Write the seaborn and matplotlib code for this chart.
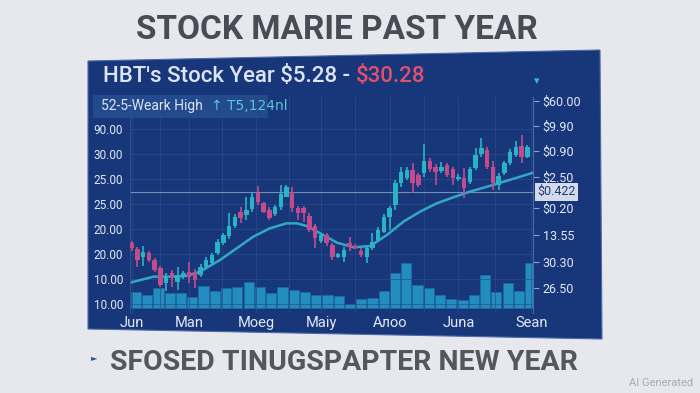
import numpy as np
import pandas as pd
import matplotlib
matplotlib.use("Agg")
import matplotlib.pyplot as plt
from matplotlib.patches import Polygon, Rectangle
import seaborn as sns

# ---------------- data ----------------
opens  = [17.36,16.56,15.60,16.16,15.28,14.28,12.56,13.76,12.68,13.28,
          13.88,13.88,13.48,14.48,14.96,16.08,17.36,18.16,19.36,21.08,
          20.68,21.36,23.36,22.08,21.28,20.80,21.68,22.88,23.48,21.48,
          21.48,20.56,19.36,17.60,18.28,17.08,15.60,15.68,17.28,16.96,
          16.40,15.68,16.68,17.68,18.68,20.40,21.88,24.48,25.08,26.08,
          25.48,25.68,27.20,26.48,26.00,26.68,26.16,24.96,25.08,24.68,
          26.28,28.00,28.48,26.48,24.28,25.68,26.88,27.88,28.96,27.68]
closes = [16.68,15.28,16.28,15.28,14.08,12.28,13.20,13.08,13.48,13.76,
          13.28,12.88,14.48,15.28,15.88,17.48,18.28,19.36,20.48,20.28,
          21.28,22.80,22.28,21.08,20.28,21.60,23.20,24.08,21.48,20.96,
          20.88,18.88,17.88,18.28,17.28,15.68,16.00,16.48,16.80,16.76,
          15.88,16.76,17.48,18.88,20.48,21.48,24.48,25.88,26.08,24.48,
          24.28,27.20,26.16,25.88,26.48,25.48,25.08,25.28,23.88,26.16,
          27.88,28.68,26.48,24.48,25.36,26.88,28.28,28.88,27.60,28.80]
highs  = [17.60,16.88,16.96,16.40,15.48,14.56,13.68,14.08,14.48,14.00,
          15.08,14.16,14.80,15.60,16.16,17.76,18.56,20.88,20.80,21.60,
          22.88,23.48,24.16,22.28,21.60,21.88,24.28,24.28,24.08,21.76,
          21.76,20.88,19.60,18.56,18.56,17.36,16.16,16.88,18.00,17.20,
          16.68,17.08,18.48,19.20,20.80,21.76,24.88,26.48,26.40,26.88,
          25.76,29.20,27.48,26.80,27.08,26.96,26.48,25.60,26.28,26.48,
          28.68,29.88,28.80,27.20,25.68,27.20,28.56,29.60,30.28,29.08]
lows   = [16.40,14.48,14.56,15.08,13.88,12.08,11.60,12.08,11.68,13.04,
          12.48,11.88,13.28,14.24,14.80,15.88,17.08,17.76,19.08,19.76,
          20.08,21.08,21.88,20.88,20.08,20.56,21.28,22.80,21.08,20.08,
          19.88,18.68,16.68,17.36,16.96,15.28,15.48,15.08,16.40,16.56,
          15.68,14.96,16.48,17.44,18.48,18.88,21.28,24.08,24.88,23.28,
          24.08,25.28,25.88,24.28,25.76,25.20,24.28,24.80,22.68,24.40,
          26.08,27.68,26.16,23.68,23.68,25.48,26.68,27.68,26.88,27.48]

volumes = [5.0,4.0,6.0,4.5,4.5,3.3,6.8,5.3,6.2,6.5,7.8,6.3,4.7,6.5,5.5,5.0,
           4.0,4.0,3.7,1.3,2.7,3.0,5.3,10.7,13.5,7.1,6.2,4.1,2.8,2.5,4.0,
           10.0,4.9,7.7,5.3,13.7]

ma_day = [-0.3,3.8,6.7,9.6,11.9,15.4,18.3,21.2,24.1,27.0,28.8,30.5,32.9,
          35.8,38.7,41.6,44.5,47.4,50.3,53.2,56.1,59.0,62.0,64.9,67.8,70.0]
ma_val = [12.56,13.28,13.28,13.36,13.88,15.28,16.68,18.08,19.08,19.68,19.68,
          19.36,18.48,17.36,16.80,16.96,18.28,19.88,21.08,22.08,22.80,23.48,
          24.08,24.68,25.28,25.76]

ref_price = 23.48
ref_label = "$0.422"

month_labels = ["Jun", "Man", "Moeg", "Maiy", "Aлoo", "Juna", "Sean"]
month_pos = [0.0, 10.0, 21.7, 33.1, 45.1, 57.0, 69.7]

left_tick_vals = [10, 13, 16, 19, 22, 25, 28, 31]
left_tick_labels = ["10.00", "10.00", "20.00", "20.00", "25.00", "25.00", "30.00", "90.00"]

right_tick_vals = [34.40, 31.40, 28.36, 25.24, 21.52, 18.28, 15.04, 11.92]
right_tick_labels = ["$60.00", "$9.90", "$0.90", "$2.50", "$0.20", "13.55", "30.30", "26.50"]

main_title = "STOCK MARIE PAST YEAR"
panel_title_a = "HBT's Stock Year $5.28 - "
panel_title_b = "$30.28"
subtitle_a = "52-5-Weark High"
subtitle_b = "↑ T5,124nl"
footer = "SFOSED TINUGSPAPTER NEW YEAR"

# ---------------- style ----------------
sns.set_theme(style="dark")
plt.rcParams['font.family'] = ['Roboto', 'DejaVu Sans']

W, H = 700, 393
fig = plt.figure(figsize=(7.0, 3.93), dpi=100)
fig.patch.set_facecolor("#e6e8ee")

def fx(x): return x / W
def fy(y): return 1 - y / H

NAVY = "#17377a"
TEAL = "#2ab3c6"
PINK = "#c24b8b"
VOL = "#248dc0"

# panel (slight perspective)
panel = Polygon([(fx(88), fy(61)), (fx(600), fy(50)), (fx(602), fy(339)), (fx(88), fy(329))],
                closed=True, transform=fig.transFigure, facecolor=NAVY,
                edgecolor="#4a6aa8", linewidth=0.8, zorder=-10)
fig.patches.append(panel)
# subtitle highlight box
fig.patches.append(Rectangle((fx(93), fy(118)), fx(268) - fx(93), fy(95) - fy(118),
                             transform=fig.transFigure, facecolor="#244a8e",
                             edgecolor="none", zorder=-9))

# axes
ax = fig.add_axes([fx(130), fy(313), fx(533) - fx(130), fy(97) - fy(313)])
ax.set_xlim(-0.3, 70.0)
ax.set_ylim(8.92, 34.84)

axv = ax.twinx()
axv.set_ylim(-1.35, 63.3)
ax.set_zorder(2)
axv.set_zorder(1)
ax.patch.set_visible(False)
axv.patch.set_visible(False)

# volume bars
n_days = len(opens)
vol_x = np.linspace(0.75, 69.5, len(volumes))
axv.bar(vol_x, volumes, width=1.78, color=VOL, edgecolor="#1a6fa5", linewidth=0.4, zorder=1)
axv.set_yticks([])
axv.grid(False)
for s in axv.spines.values():
    s.set_visible(False)

# candles
df = pd.DataFrame({"day": np.arange(n_days), "open": opens, "close": closes,
                   "high": highs, "low": lows})
df["up"] = df["close"] >= df["open"]
colors = np.where(df["up"], TEAL, PINK)
ax.vlines(df["day"], df["low"], df["high"], colors=colors, linewidth=1.2, zorder=3)
bottoms = np.minimum(df["open"], df["close"])
heights = np.abs(df["close"] - df["open"]).clip(lower=0.15)
ax.bar(df["day"], heights, bottom=bottoms, width=0.78, color=colors, linewidth=0, zorder=4)

# moving average
sns.lineplot(x=ma_day, y=ma_val, ax=ax, color="#34a8c4", linewidth=1.8, zorder=2,
             sort=False, estimator=None)

# reference line + label box
ax.axhline(ref_price, color="#8fa3cc", linewidth=0.8, alpha=0.8, zorder=1)
ax.annotate(ref_label, xy=(1.0, ref_price), xycoords=("axes fraction", "data"),
            xytext=(3, 0), textcoords="offset points", ha="left", va="center",
            fontsize=9, color="#1d3a74", annotation_clip=False,
            bbox=dict(boxstyle="square,pad=0.2", facecolor="#d3dbea", edgecolor="none"))

# grid
ax.set_yticks(left_tick_vals)
ax.set_yticklabels(left_tick_labels)
ax.set_xticks(month_pos)
ax.set_xticklabels(month_labels)
ax.set_xticks([5, 15.8, 27.4, 39, 51, 63.3], minor=True)
ax.grid(True, which="both", color="#2b4c8a", linewidth=0.6, alpha=0.8)
ax.tick_params(axis="y", which="both", length=0, pad=5, labelsize=8.5, labelcolor="#e3e9f5")
ax.tick_params(axis="x", which="both", length=0, pad=2, labelsize=10.5, labelcolor="#e3e9f5")
for s in ["top", "bottom", "right"]:
    ax.spines[s].set_visible(False)
ax.spines["left"].set_color("#36558f")
ax.spines["left"].set_linewidth(0.6)

sec = ax.secondary_yaxis("right")
sec.set_yticks(right_tick_vals)
sec.set_yticklabels(right_tick_labels)
sec.tick_params(length=4, width=0.8, color="#8aa0c8", pad=3, labelsize=9, labelcolor="#e3e9f5")
sec.spines["right"].set_color("#4a6aa8")
sec.spines["right"].set_linewidth(0.8)

# texts
fig.text(fx(337), fy(30), main_title, ha="center", va="center", fontsize=24,
         fontweight="bold", color="#4b4b56")
t1 = fig.text(fx(103), fy(77), panel_title_a, ha="left", va="center", fontsize=16,
              color="#dde5f4", fontweight="medium")
fig.canvas.draw()
bb = t1.get_window_extent()
fig.text(bb.x1 / W, fy(77), panel_title_b, ha="left", va="center", fontsize=16,
         color="#e2506f", fontweight="medium")
t2 = fig.text(fx(101), fy(106), subtitle_a, ha="left", va="center", fontsize=10, color="#dde5f4")
bb2 = t2.get_window_extent(renderer=fig.canvas.get_renderer())
fig.text(bb2.x1 / W + fx(8), fy(106), subtitle_b, ha="left", va="center", fontsize=10,
         color="#56c6d6", family=['DejaVu Sans'])
fig.text(fx(537), fy(81), "▾", ha="center", va="center", fontsize=8, color="#3fb6cc",
         family=['DejaVu Sans'])
fig.text(fx(94), fy(358), "►", ha="center", va="center", fontsize=6, color="#2a56a6",
         family=['DejaVu Sans'])
fig.text(fx(344), fy(362), footer, ha="center", va="center", fontsize=20.5,
         fontweight="bold", color="#56565e")
fig.text(fx(693), fy(383), "AI Generated", ha="right", va="center", fontsize=8,
         color="#a9abb3")

fig.savefig("out.png", dpi=100, facecolor=fig.get_facecolor())
